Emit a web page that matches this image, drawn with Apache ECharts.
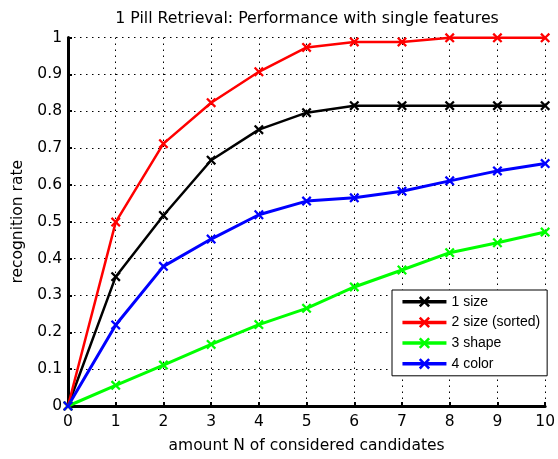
<!DOCTYPE html>
<html>
<head>
<meta charset="utf-8">
<script src="https://cdn.jsdelivr.net/npm/echarts@6/dist/echarts.min.js"></script>
<style>
html,body{margin:0;padding:0;background:#fff;}
#chart{width:558px;height:459px;}
</style>
</head>
<body>
<div id="chart"></div>
<script>
// ---- data ----
var categories = [0, 1, 2, 3, 4, 5, 6, 7, 8, 9, 10];
var seriesNames = ['1 size', '2 size (sorted)', '3 shape', '4 color'];
var sizeValues = [0, 0.351, 0.517, 0.667, 0.750, 0.796, 0.815, 0.815, 0.815, 0.815, 0.815];
var sizeSortedValues = [0, 0.499, 0.712, 0.823, 0.907, 0.973, 0.988, 0.988, 0.999, 0.999, 0.999];
var shapeValues = [0, 0.056, 0.111, 0.167, 0.221, 0.265, 0.323, 0.369, 0.416, 0.443, 0.472];
var colorValues = [0, 0.220, 0.379, 0.453, 0.519, 0.556, 0.565, 0.583, 0.611, 0.638, 0.658];
var yTicks = [0, 0.1, 0.2, 0.3, 0.4, 0.5, 0.6, 0.7, 0.8, 0.9, 1];

var allValues = [sizeValues, sizeSortedValues, shapeValues, colorValues];
var colors = ['#000000', '#ff0000', '#00ff00', '#0000ff'];
var widths = [2.5, 2.5, 3, 3];

var xMark = 'path://M0,1.6L1.6,0L5,3.4L8.4,0L10,1.6L6.6,5L10,8.4L8.4,10L5,6.6L1.6,10L0,8.4L3.4,5Z';
var FONT = 'DejaVu Sans, sans-serif';
var LFONT = 'Liberation Sans, Arial, sans-serif';

var chart = echarts.init(document.getElementById('chart'), null, {renderer: 'canvas'});

var series = allValues.map(function (vals, i) {
  return {
    name: seriesNames[i],
    type: 'line',
    data: categories.map(function (c, j) { return [c, vals[j]]; }),
    symbol: xMark,
    symbolSize: 10,
    showAllSymbol: true,
    clip: false,
    lineStyle: {color: colors[i], width: widths[i]},
    itemStyle: {color: colors[i], borderWidth: 0},
    emphasis: {disabled: true},
    animation: false
  };
});

chart.setOption({
  animation: false,
  backgroundColor: '#ffffff',
  title: {
    text: '1 Pill Retrieval: Performance with single features',
    left: 302, top: 6, textAlign: 'center',
    textStyle: {fontFamily: FONT, fontSize: 15.8, fontWeight: 'normal', color: '#000'}
  },
  grid: {left: 68, right: 11, top: 37.5, bottom: 43.5, containLabel: false},
  legend: {
    left: 392, top: 290,
    orient: 'vertical',
    data: seriesNames,
    itemWidth: 44, itemHeight: 14, itemGap: 6.7,
    padding: [4.7, 7, 5, 8.7],
    backgroundColor: '#ffffff',
    borderColor: '#000', borderWidth: 1,
    textStyle: {fontFamily: LFONT, fontSize: 14, color: '#000'},
    itemStyle: {borderWidth: 0},
    lineStyle: {width: 3.5}
  },
  xAxis: {
    type: 'value', min: 0, max: 10, interval: 1,
    name: 'amount N of considered candidates',
    nameLocation: 'middle', nameGap: 32,
    nameTextStyle: {fontFamily: FONT, fontSize: 15.5, color: '#000'},
    axisLine: {show: true, onZero: false, lineStyle: {color: '#000', width: 3}},
    axisTick: {show: true, inside: true, length: 4, lineStyle: {color: '#000', width: 2}},
    axisLabel: {fontFamily: FONT, fontSize: 15.5, color: '#000', margin: 8},
    splitLine: {show: true, lineStyle: {color: '#000', width: 1, type: [1.5, 4.5]}}
  },
  yAxis: {
    type: 'value', min: 0, max: 1, interval: 0.1,
    name: 'recognition rate',
    nameLocation: 'middle', nameGap: 30,
    nameTextStyle: {fontFamily: FONT, fontSize: 15.5, color: '#000'},
    axisLine: {show: true, onZero: false, lineStyle: {color: '#000', width: 3}},
    axisTick: {show: true, inside: true, length: 4, lineStyle: {color: '#000', width: 2}},
    axisLabel: {
      fontFamily: FONT, fontSize: 15.5, color: '#000', margin: 6,
      formatter: function (v) {
        for (var k = 0; k < yTicks.length; k++) {
          if (Math.abs(yTicks[k] - v) < 1e-9) return String(yTicks[k]);
        }
        return '';
      }
    },
    splitLine: {show: true, lineStyle: {color: '#000', width: 1, type: [1.5, 4.5]}}
  },
  series: series
});
</script>
</body>
</html>
